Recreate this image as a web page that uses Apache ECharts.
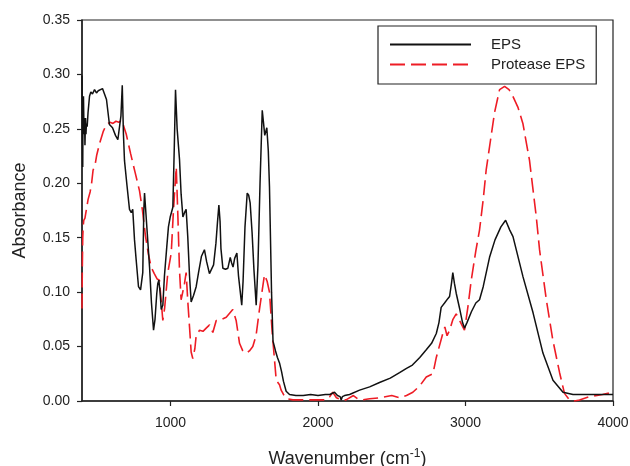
<!DOCTYPE html>
<html>
<head>
<meta charset="utf-8">
<script src="https://cdn.jsdelivr.net/npm/echarts@6/dist/echarts.min.js"></script>
<style>html,body{margin:0;padding:0;background:#fff;}#c{width:630px;height:466px;}</style>
</head>
<body>
<div id="c"></div>
<script>
// ---- data ----
const seriesNames = ['EPS', 'Protease EPS'];
const xTicks = [1000, 2000, 3000, 4000];
const yTicks = [0, 0.05, 0.10, 0.15, 0.20, 0.25, 0.30, 0.35];

const epsX = [400,403,405,407,410,414,417,420,424,427,430,435,441,451,460,471,485,498,510,519,539,566,586,607,627,643,654,664,673,681,688,705,722,734,744,756,767,783,797,812,819,824,835,847,858,871,885,895,907,914,921,930,937,948,959,975,986,998,1016,1026,1034,1045,1061,1072,1084,1095,1106,1117,1129,1140,1156,1174,1190,1210,1230,1245,1264,1276,1292,1308,1319,1328,1336,1342,1355,1373,1389,1405,1414,1424,1435,1450,1461,1483,1492,1505,1520,1530,1540,1553,1566,1581,1593,1607,1622,1631,1639,1653,1663,1671,1685,1695,1712,1725,1739,1753,1766,1784,1807,1850,1900,1950,2000,2050,2080,2112,2132,2150,2157,2165,2180,2214,2282,2350,2417,2490,2553,2600,2640,2690,2734,2770,2802,2820,2835,2858,2880,2892,2905,2914,2925,2937,2960,2980,2993,3010,3040,3070,3095,3120,3163,3200,3240,3272,3300,3322,3390,3458,3525,3593,3661,3729,3800,3900,4000];
const epsY = [0.299,0.240,0.215,0.275,0.280,0.245,0.260,0.235,0.260,0.245,0.255,0.252,0.265,0.280,0.284,0.282,0.286,0.283,0.285,0.286,0.287,0.277,0.254,0.251,0.244,0.240,0.240,0.262,0.290,0.245,0.221,0.198,0.176,0.173,0.176,0.148,0.130,0.105,0.102,0.118,0.175,0.191,0.169,0.145,0.123,0.090,0.065,0.075,0.099,0.108,0.111,0.099,0.084,0.088,0.115,0.142,0.160,0.169,0.178,0.235,0.286,0.250,0.222,0.190,0.169,0.173,0.176,0.151,0.115,0.091,0.097,0.105,0.118,0.133,0.139,0.128,0.117,0.116,0.125,0.145,0.165,0.180,0.165,0.140,0.122,0.121,0.122,0.132,0.127,0.123,0.131,0.136,0.115,0.088,0.110,0.160,0.191,0.189,0.182,0.155,0.120,0.088,0.125,0.200,0.267,0.255,0.244,0.251,0.230,0.197,0.100,0.055,0.046,0.040,0.035,0.027,0.018,0.009,0.006,0.005,0.005,0.006,0.005,0.006,0.006,0.008,0.005,0.004,0.001,0.004,0.005,0.006,0.010,0.013,0.017,0.021,0.026,0.030,0.033,0.040,0.047,0.053,0.062,0.072,0.086,0.090,0.094,0.096,0.108,0.118,0.108,0.099,0.085,0.072,0.067,0.072,0.082,0.090,0.093,0.105,0.132,0.148,0.160,0.166,0.157,0.151,0.114,0.081,0.044,0.019,0.008,0.006,0.006,0.006,0.006];

const proX = [400,402,405,408,412,420,430,441,455,465,475,490,500,520,545,566,590,610,630,650,666,677,700,730,760,790,810,830,850,869,890,910,925,935,948,960,982,1005,1020,1039,1050,1061,1072,1083,1095,1106,1118,1129,1140,1151,1165,1174,1197,1220,1242,1265,1287,1310,1332,1378,1422,1445,1468,1490,1513,1535,1558,1580,1603,1620,1637,1655,1671,1690,1705,1717,1739,1750,1766,1790,1830,1900,1980,2050,2080,2100,2125,2160,2190,2240,2270,2300,2350,2420,2500,2553,2600,2643,2690,2734,2779,2802,2846,2860,2875,2892,2915,2937,2960,2993,3015,3039,3070,3095,3120,3140,3170,3197,3231,3265,3295,3321,3355,3389,3434,3480,3502,3548,3592,3638,3671,3705,3740,3773,3841,3929,4000];
const proY = [0.085,0.120,0.150,0.160,0.166,0.168,0.176,0.185,0.192,0.200,0.212,0.218,0.226,0.237,0.248,0.254,0.256,0.255,0.257,0.256,0.258,0.255,0.245,0.227,0.210,0.193,0.175,0.152,0.135,0.123,0.117,0.112,0.111,0.095,0.074,0.085,0.118,0.136,0.175,0.215,0.170,0.120,0.093,0.100,0.108,0.118,0.090,0.068,0.045,0.039,0.048,0.060,0.065,0.064,0.067,0.070,0.063,0.074,0.074,0.077,0.084,0.074,0.053,0.046,0.044,0.046,0.050,0.060,0.084,0.100,0.116,0.110,0.100,0.062,0.038,0.019,0.015,0.010,0.006,0.002,0.001,0.001,0.001,0.001,0.004,0.008,0.003,0.001,0.001,0.005,0.002,0.001,0.002,0.003,0.005,0.003,0.005,0.008,0.014,0.022,0.025,0.040,0.062,0.068,0.060,0.065,0.075,0.080,0.074,0.065,0.085,0.111,0.138,0.157,0.185,0.212,0.240,0.265,0.286,0.289,0.286,0.280,0.270,0.255,0.221,0.169,0.139,0.093,0.056,0.026,0.007,0.001,0.000,0.001,0.004,0.006,0.008];

function pairs(xs, ys) { return xs.map((x, i) => [x, ys[i]]); }

const FONT = 'Liberation Sans, Arial, sans-serif';
const TXT = '#222';

const chart = echarts.init(document.getElementById('c'), null, { renderer: 'canvas' });
chart.setOption({
  animation: false,
  backgroundColor: '#fff',
  grid: { left: 82, right: 17, top: 20, bottom: 65, outerBoundsMode: 'none', containLabel: false,
          show: true, borderColor: '#222', borderWidth: 1.2, backgroundColor: 'transparent' },
  legend: {
    orient: 'vertical',
    left: 378, top: 26,
    padding: [11, 11, 12, 11],
    itemWidth: 81, itemHeight: 14, itemGap: 5,
    borderColor: '#222', borderWidth: 1.2, backgroundColor: '#fff',
    itemStyle: { opacity: 0 },
    textStyle: { fontFamily: FONT, fontSize: 15, color: TXT, padding: [0, 0, 0, 15], lineHeight: 14 },
    data: seriesNames
  },
  xAxis: {
    type: 'value', min: 400, max: 4000, interval: 200,
    name: 'Wavenumber (cm{sup|-1})',
    nameLocation: 'middle', nameGap: 47,
    nameTextStyle: { fontFamily: FONT, fontSize: 18, color: TXT, rich: { sup: { fontFamily: FONT, fontSize: 12, color: TXT, verticalAlign: 'top', padding: [0, 0, 10, 0] } } },
    axisLine: { lineStyle: { color: '#222', width: 1.5 } },
    axisTick: { show: true, inside: false, length: 5, customValues: xTicks, lineStyle: { color: '#222', width: 1.2 } },
    axisLabel: { customValues: xTicks, fontFamily: FONT, fontSize: 14, color: TXT, margin: 15, formatter: v => String(v) },
    splitLine: { show: false }
  },
  yAxis: {
    type: 'value', min: 0, max: 0.35, interval: 0.05,
    name: 'Absorbance',
    nameLocation: 'middle', nameGap: 53,
    nameTextStyle: { fontFamily: FONT, fontSize: 18, color: TXT },
    axisLine: { show: true, lineStyle: { color: '#222', width: 1.5 } },
    axisTick: { show: true, inside: false, length: 5, lineStyle: { color: '#222', width: 1.2 } },
    axisLabel: { customValues: yTicks, fontFamily: FONT, fontSize: 14, color: TXT, margin: 12, formatter: v => v.toFixed(2) },
    splitLine: { show: false }
  },
  series: [
    { name: seriesNames[0], type: 'line', data: pairs(epsX, epsY), symbol: 'none', smooth: false,
      lineStyle: { color: '#111', width: 1.5 }, itemStyle: { color: '#111' }, z: 3 },
    { name: seriesNames[1], type: 'line', data: pairs(proX, proY), symbol: 'none', smooth: false,
      lineStyle: { color: '#ee1c25', width: 1.6, type: [15, 6] }, itemStyle: { color: '#ee1c25' }, z: 2 }
  ]
});
</script>
</body>
</html>
